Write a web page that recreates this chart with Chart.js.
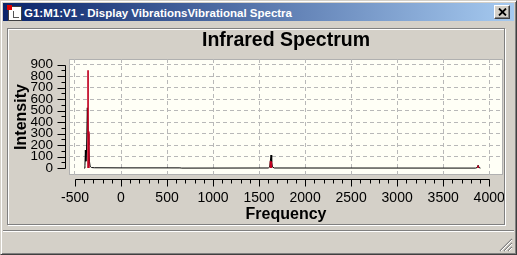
<!DOCTYPE html>
<html>
<head>
<meta charset="utf-8">
<title>Infrared Spectrum</title>
<style>
  html, body { margin: 0; padding: 0; }
  body {
    width: 517px; height: 255px; overflow: hidden; position: relative;
    background: #d4d0c8; font-family: "Liberation Sans", Arial, sans-serif;
  }
  .win {
    position: absolute; left: 0; top: 0; width: 517px; height: 255px; box-sizing: border-box;
    border: 1px solid; border-color: #d4d0c8 #404040 #404040 #d4d0c8;
    box-shadow: inset 1px 1px 0 #fff, inset -1px -1px 0 #808080;
  }
  .titlebar {
    position: absolute; left: 3px; top: 3px; width: 511px; height: 18px;
    background: linear-gradient(to right, #0a246a, #a6caf0);
  }
  .titlebar .caption {
    position: absolute; left: 21px; top: 4px; line-height: 13px;
    color: #fff; font: bold 11.5px "Liberation Sans", Arial, sans-serif; white-space: nowrap;
  }
  .icon { position: absolute; left: 5px; top: 3px; width: 12px; height: 13px; background: #fff; border: 1px solid #404040; }
  .icon .red { position: absolute; left: -2px; top: -2px; width: 5px; height: 5px; background: #e00000; }
  .icon .tree { position: absolute; left: 4px; top: 4px; width: 5px; height: 6px; border-left: 1px solid #555; border-bottom: 1px solid #555; }
  .close {
    position: absolute; left: 491px; top: 2px; width: 16px; height: 14px; box-sizing: border-box;
    background: #d4d0c8; border: 1px solid; border-color: #fff #404040 #404040 #fff;
    box-shadow: inset -1px -1px 0 #808080;
  }
  .close svg { position: absolute; left: 3px; top: 2px; }
  .panel {
    position: absolute; left: 7px; top: 28px; width: 498px; height: 197px; box-sizing: border-box;
    border: 1px solid #808080; box-shadow: 1px 1px 0 #fff, inset 1px 1px 0 #fff;
  }
  #chart { position: absolute; left: 10px; top: 30px; }
  .status { position: absolute; left: 3px; top: 230px; width: 511px; height: 1px; background: #808080; border-bottom: 1px solid #fff; }
  .grip { position: absolute; left: 499px; top: 238px; }
</style>
</head>
<body>
<div class="win"></div>
<div class="titlebar">
  <div class="icon"><div class="red"></div><div class="tree"></div></div>
  <span class="caption">G1:M1:V1 - Display VibrationsVibrational Spectra</span>
  <div class="close">
    <svg width="9" height="8" viewBox="0 0 9 8"><path d="M1 0.5 L8 7.5 M8 0.5 L1 7.5" stroke="#000" stroke-width="1.8"/></svg>
  </div>
</div>
<div class="panel"></div>
<canvas id="chart" width="494" height="194"></canvas>
<div class="status"></div>
<svg class="grip" width="14" height="14" viewBox="0 0 14 14">
  <path d="M13 1 L1 13 M13 5 L5 13 M13 9 L9 13" stroke="#808080" stroke-width="1.2"/>
  <path d="M13 2 L2 13 M13 6 L6 13 M13 10 L10 13" stroke="#fff" stroke-width="1"/>
</svg>

<script src="https://cdn.jsdelivr.net/npm/chart.js"></script>
<script>
// axis ticks
const xTicks = [-500, 0, 500, 1000, 1500, 2000, 2500, 3000, 3500, 4000];
const yTicks = [0, 100, 200, 300, 400, 500, 600, 700, 800, 900];

// broadened spectrum (black curve)
const specFreq = [-400, -392, -387, -382, -375, -366, -358, -350, -343, -335, -320, -290, 0, 640, 660,
                  1600, 1615, 1622, 1630, 1637, 1645, 1665, 3850, 3870, 3880, 3890, 3905];
const specInt  = [0, 20, 157, 60, 140, 525, 300, 200, 60, 15, 5, 3, 2, 2, 0,
                  1, 10, 60, 114, 55, 10, 1, 0, 5, 25, 5, 0];

// stick spectrum (red)
const stickFreq = [-358, -349, 1624, 1634, 3880];
const stickInt  = [850, 315, 58, 55, 20];

const tickFont = { family: '"Liberation Sans Narrow", "Liberation Sans", Arial, sans-serif', size: 14 };

const plotFrame = {
    id: 'plotFrame',
    beforeDraw(chart) {
        const { ctx, chartArea: a } = chart;
        ctx.save();
        ctx.fillStyle = '#fffff6';
        ctx.fillRect(a.left, a.top, a.right - a.left, a.bottom - a.top);
        ctx.strokeStyle = '#b0b0b0';
        ctx.lineWidth = 1;
        ctx.strokeRect(a.left + 0.5, a.top + 0.5, a.right - a.left - 1, a.bottom - a.top - 1);
        ctx.restore();
    },
    afterDraw(chart) {
        // axis lines sit a few pixels outside the plot, ticks point away from it
        const { ctx, chartArea: a, scales: { x, y } } = chart;
        const px = v => Math.round(x.getPixelForValue(v)) + 0.5;
        const py = v => Math.round(y.getPixelForValue(v)) + 0.5;
        ctx.save();
        ctx.strokeStyle = '#000';
        ctx.lineWidth = 1;
        ctx.beginPath();

        const ax = a.left - 3.5;
        ctx.moveTo(ax, py(yTicks[0]));
        ctx.lineTo(ax, py(yTicks[yTicks.length - 1]));
        yTicks.forEach(v => { ctx.moveTo(ax - 8, py(v)); ctx.lineTo(ax, py(v)); });
        for (let i = 0; i < yTicks.length - 1; i++) {
            const m = (yTicks[i] + yTicks[i + 1]) / 2;
            ctx.moveTo(ax - 4, py(m)); ctx.lineTo(ax, py(m));
        }

        const ay = a.bottom + 4.5;
        ctx.moveTo(px(xTicks[0]), ay);
        ctx.lineTo(px(xTicks[xTicks.length - 1]), ay);
        xTicks.forEach(v => { ctx.moveTo(px(v), ay); ctx.lineTo(px(v), ay + 7); });
        for (let v = xTicks[0] + 100; v < xTicks[xTicks.length - 1]; v += 100) {
            ctx.moveTo(px(v), ay); ctx.lineTo(px(v), ay + 4);
        }
        ctx.stroke();
        ctx.restore();
    }
};

new Chart(document.getElementById('chart'), {
    type: 'line',
    data: {
        datasets: [{
            type: 'bar',
            label: 'Sticks',
            data: stickFreq.map((f, i) => ({ x: f, y: stickInt[i] })),
            backgroundColor: '#c00020',
            barThickness: 1,
            grouped: false,
            order: 0
        }, {
            label: 'Spectrum',
            data: specFreq.map((f, i) => ({ x: f, y: specInt[i] })),
            borderColor: '#000',
            borderWidth: 1,
            pointRadius: 0,
            tension: 0,
            order: 1
        }]
    },
    options: {
        responsive: false,
        animation: false,
        devicePixelRatio: 1,
        layout: { padding: { right: 1 } },
        plugins: {
            legend: { display: false },
            tooltip: { enabled: false },
            title: {
                display: true,
                text: 'Infrared Spectrum',
                fullSize: false,
                color: '#000',
                font: { family: '"Liberation Sans", Arial, sans-serif', size: 19.5, weight: 'bold', lineHeight: 1 },
                padding: { top: 1, bottom: 8.5 }
            }
        },
        scales: {
            x: {
                type: 'linear',
                offset: false,
                min: -565,
                max: 4150,
                afterBuildTicks: s => { s.ticks = xTicks.map(v => ({ value: v })); },
                afterFit: s => { s.height = 49; s.paddingLeft = 0; s.paddingRight = 0; },
                grid: { color: '#b8b8b8', drawTicks: false, offset: false },
                border: { display: false, dash: [4, 3] },
                ticks: { color: '#000', font: tickFont, padding: 15, maxRotation: 0, autoSkip: false,
                         callback: v => String(v) },
                title: {
                    display: true, text: 'Frequency', color: '#000',
                    font: { family: '"Liberation Sans", Arial, sans-serif', size: 16, weight: 'bold' },
                    padding: 0
                }
            },
            y: {
                min: -60,
                max: 950,
                afterBuildTicks: s => { s.ticks = yTicks.map(v => ({ value: v })); },
                afterFit: s => { s.width = 59; s.paddingTop = 0; s.paddingBottom = 0; },
                grid: { color: c => c.tick && c.tick.value === 0 ? 'rgba(0,0,0,0)' : '#b8b8b8', drawTicks: false },
                border: { display: false, dash: [4, 3] },
                ticks: { color: '#000', font: { ...tickFont, size: 13.5 }, padding: 16, autoSkip: false,
                         callback: v => String(v) },
                title: {
                    display: true, text: 'Intensity', color: '#000',
                    font: { family: '"Liberation Sans", Arial, sans-serif', size: 16, weight: 'bold' },
                    padding: { top: 2, bottom: 0 }
                }
            }
        }
    },
    plugins: [plotFrame]
});
</script>
</body>
</html>
